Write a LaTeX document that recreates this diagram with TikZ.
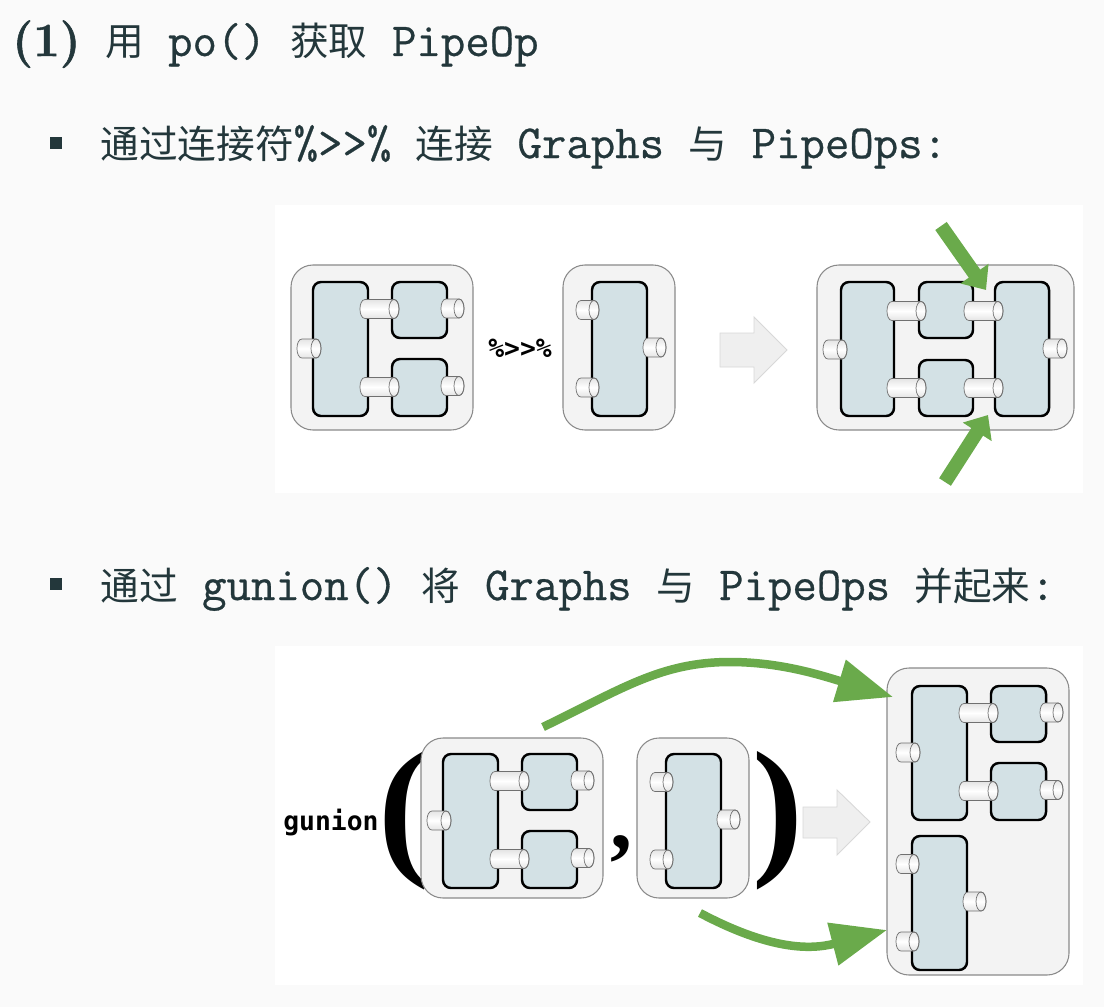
\documentclass[tikz,border=0pt]{standalone}
\usepackage{fontspec}
\setmonofont{Latin Modern Mono}[FakeBold=0.6]
\newfontfamily\headfont{Latin Modern Roman}[BoldFeatures={FakeBold=1.2}]
\newfontfamily\cjk{Noto Sans CJK SC}[Scale=0.815]
\newfontfamily\codefont{DejaVu Sans Mono}
\newfontfamily\parenfont{Liberation Serif}
\usetikzlibrary{arrows.meta}
\definecolor{slide}{HTML}{FAFAFA}
\definecolor{ink}{HTML}{23373B}
\definecolor{grpfill}{HTML}{F3F3F3}
\definecolor{grpline}{HTML}{8A8A8A}
\definecolor{opfill}{HTML}{D3E1E5}
\definecolor{cylfill}{HTML}{E4E4E4}
\definecolor{cylline}{HTML}{707070}
\definecolor{arrowfill}{HTML}{EFEFEF}
\definecolor{arrowline}{HTML}{D8D8D8}
\definecolor{pgreen}{HTML}{6AAA4B}

\begin{document}
\begin{tikzpicture}[x=0.02cm, y=-0.02cm,
  line/.style={anchor=base west, inner sep=0, text=ink, font=\fontsize{27}{32}\selectfont\ttfamily},
  bullet/.style={fill=ink, inner sep=0, minimum size=0.24cm},
  grp/.style={draw=grpline, fill=grpfill, line width=0.6pt, rounded corners=0.44cm},
  op/.style={draw=black, fill=opfill, line width=1.4pt, rounded corners=0.16cm},
  cyl/.style={draw=cylline, line width=0.4pt, top color=cylfill, bottom color=cylfill, middle color=white},
  codesym/.style={inner sep=0, font=\fontsize{15}{18}\selectfont\codefont\bfseries},
  paren/.style={inner sep=0, anchor=base west, font=\fontsize{87}{90}\selectfont\parenfont\bfseries},
  bigarrow/.style={fill=arrowfill, draw=arrowline, line width=0.5pt},
  greenbar/.style={pgreen, line width=0.28cm, -{Triangle[length=0.4cm, width=0.66cm]}},
  greencurve/.style={pgreen, line width=0.17cm, -{Triangle[length=1.12cm, width=0.84cm]}},
  pics/pipe/.style={code={
    \path[cyl] (0,-9.5) -- (#1,-9.5) .. controls (#1+6.7,-9.5) and (#1+6.7,9.5) .. (#1,9.5)
      -- (0,9.5) .. controls (-6.7,9.5) and (-6.7,-9.5) .. (0,-9.5) -- cycle;
    \draw[cylline, line width=0.4pt] (#1,0) ellipse [x radius=5, y radius=9.5];
  }},
  pics/coreA/.style={code={
    \draw[op] (22,17) rectangle (77,151);
    \draw[op] (101,17) rectangle (156,73);
    \draw[op] (101,94) rectangle (156,151);
    \pic at (74,44) {pipe=29};
    \pic at (74,122) {pipe=29};
    \pic at (155,43.5) {pipe=13};
    \pic at (155,121) {pipe=13};
    \pic at (11,83.5) {pipe=14};
  }},
  pics/coreB/.style={code={
    \draw[op] (29,17) rectangle (84,151);
    \pic at (18,45) {pipe=13};
    \pic at (18,122.5) {pipe=13};
    \pic at (85,82.5) {pipe=13};
  }}]

% slide and the two image panels
\fill[slide] (0,0) rectangle (1104,1007);
\fill[white] (275,205) rectangle (1083,493);
\fill[white] (275,646) rectangle (1083,985);

% text
\node[line] (head) at (12,56) {{\headfont\bfseries (1)} {\cjk 用} po() {\cjk 获取} PipeOp};

\node[bullet] (dotA) at (56,143) {};
\node[line] (itemA) at (100,158) {{\cjk 通过连接符}\%>{}>\% {\cjk 连接} Graphs {\cjk 与} PipeOps:};

\node[bullet] (dotB) at (56,584) {};
\node[line] (itemB) at (100,600) {{\cjk 通过} gunion() {\cjk 将} Graphs {\cjk 与} PipeOps {\cjk 并起来}:};

% graph %>>% pipeop
\draw[grp] (291,265) rectangle (473,430);
\pic at (291,265) {coreA};

\node[codesym] (pipeop) at (520,348) {\%>{}>\%};

\draw[grp] (563,265) rectangle (675,430);
\pic at (563,265) {coreB};

\draw[bigarrow] (720,333) -- (754,333) -- (754,317) -- (787,350) -- (754,383) -- (754,367) -- (720,367) -- cycle;

\draw[grp] (817,265) rectangle (1074,430);
\draw[op] (841,282) rectangle (894,416);
\draw[op] (919,282) rectangle (973,338);
\draw[op] (919,360) rectangle (973,416);
\draw[op] (995,282) rectangle (1049,416);
\foreach \y in {311,388} {
  \pic at (892,\y) {pipe=29};
  \pic at (969,\y) {pipe=29};
}
\pic at (828,349.5) {pipe=14};
\pic at (1048,348.5) {pipe=14};

\coordinate (upA) at (941,226);
\coordinate (upB) at (986,290);
\coordinate (lowA) at (945,482);
\coordinate (lowB) at (988,415);
\draw[greenbar] (upA) -- (upB);
\draw[greenbar] (lowA) -- (lowB);

% gunion(graph, pipeop)
\node[codesym, anchor=base west] (gunion) at (283,830) {gunion};
\node[paren] (lpar) at (378,857) {(};

\draw[grp] (421,738) rectangle (603,898);
\pic at (421,737) {coreA};

\node[paren, font=\fontsize{50}{52}\selectfont\parenfont\bfseries] (comma) at (610,848) {,};

\draw[grp] (637,738) rectangle (749,898);
\pic at (637,737) {coreB};

\node[paren] (rpar) at (752,857) {)};

\draw[bigarrow] (803,807) -- (837,807) -- (837,790) -- (870,822) -- (837,855) -- (837,838) -- (803,838) -- cycle;

\draw[grp] (887,668) rectangle (1069,975);
\pic at (890,669) {coreA};
\pic at (883,819) {coreB};

\coordinate (fromG) at (543,727);
\coordinate (peakG) at (730,662);
\coordinate (toG) at (893,697);
\coordinate (fromP) at (700,913);
\coordinate (toP) at (887,930);
\draw[greencurve] (fromG) .. controls (620,690) and (660,662) .. (peakG) .. controls (780,662) and (820,675) .. (toG);
\draw[greencurve] (fromP) .. controls (770,950) and (810,950) .. (toP);
\end{tikzpicture}
\end{document}
